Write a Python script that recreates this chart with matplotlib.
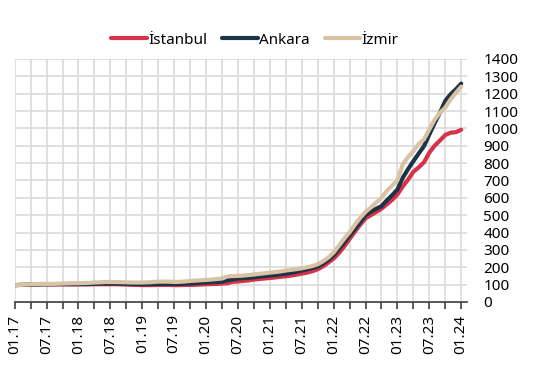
import numpy as np
import matplotlib
matplotlib.use("Agg")
import matplotlib.pyplot as plt

plt.rcParams['font.family'] = ['Noto Sans', 'DejaVu Sans']

# aylik endeks, 01.17 - 01.24
istanbul = [97, 98, 99, 100, 100, 101, 101, 101, 101, 101, 101, 101,
            101, 101, 101, 102, 102, 102, 102, 102, 101, 100, 99, 98,
            97, 97, 97, 98, 98, 98, 97, 97, 98, 98, 99, 100,
            102, 103, 104, 106, 108, 116, 118, 121, 124, 129, 132, 135,
            138, 141, 145, 148, 152, 157, 163, 169, 177, 188, 205, 227,
            250, 282, 320, 363, 405, 445, 481, 500, 518, 537, 562, 588,
            619, 665, 705, 750, 775, 805, 860, 900, 930, 962, 975, 978,
            992]
ankara = [97, 98, 99, 100, 101, 102, 102, 102, 103, 103, 103, 103,
          103, 103, 104, 104, 105, 106, 106, 106, 105, 104, 103, 103,
          102, 102, 103, 104, 104, 104, 104, 104, 105, 106, 108, 110,
          112, 114, 115, 117, 125, 130, 135, 137, 139, 142, 146, 149,
          152, 155, 159, 163, 168, 174, 181, 188, 195, 204, 220, 242,
          269, 305, 343, 383, 420, 460, 500, 520, 537, 552, 585, 615,
          648, 715, 765, 811, 855, 898, 965, 1030, 1090, 1158, 1196, 1225,
          1258]
izmir = [96, 98, 100, 102, 103, 104, 104, 104, 105, 106, 107, 108,
         108, 109, 110, 112, 113, 115, 115, 115, 114, 113, 112, 112,
         112, 113, 115, 117, 117, 117, 115, 116, 118, 121, 123, 125,
         127, 129, 132, 135, 147, 149, 150, 152, 155, 158, 162, 165,
         169, 172, 176, 181, 185, 189, 194, 200, 207, 217, 234, 256,
         285, 325, 365, 402, 445, 485, 519, 545, 572, 600, 640, 670,
         702, 792, 835, 869, 910, 937, 994, 1050, 1090, 1119, 1167, 1205,
         1240]
tick_labels = ["01.17", "07.17", "01.18", "07.18", "01.19", "07.19", "01.20",
               "07.20", "01.21", "07.21", "01.22", "07.22", "01.23", "07.23",
               "01.24"]

months = np.arange(len(istanbul))

fig = plt.figure(figsize=(5.45, 3.66), dpi=100)
ax = fig.add_axes([0.027, 0.175, 0.829, 0.664])

ax.plot(months, istanbul, color="#D6334A", lw=3, label="İstanbul", solid_capstyle="round")
ax.plot(months, ankara, color="#1E3446", lw=3, label="Ankara", solid_capstyle="round")
ax.plot(months, izmir, color="#D8C3A4", lw=3, label="İzmir", solid_capstyle="round")

ax.set_xlim(0, 85)
ax.set_ylim(0, 1400)
ax.set_xticks(np.arange(0, 85, 6))
ax.set_xticklabels(tick_labels, rotation=90, fontsize=11)
ax.set_xticks(np.arange(0, 85, 3), minor=True)
ax.set_yticks(np.arange(0, 1401, 100))
ax.yaxis.tick_right()
ax.tick_params(axis="y", length=0, labelsize=11, pad=12)
ax.tick_params(axis="x", which="both", length=5, width=1.2, color="#404040", pad=4)

ax.grid(True, which="both", color="#DADADA", lw=1.2)
ax.set_axisbelow(True)
for s in ["left", "right", "top"]:
    ax.spines[s].set_visible(False)
ax.spines["bottom"].set_color("#404040")
ax.spines["bottom"].set_linewidth(1.2)

fig.legend(loc="center", bbox_to_anchor=(255 / 545, 1 - 40 / 366), ncol=3,
           frameon=False, fontsize=11, handlelength=2.3, handletextpad=0.1,
           columnspacing=1.0)

fig.savefig("out.png", dpi=100)
